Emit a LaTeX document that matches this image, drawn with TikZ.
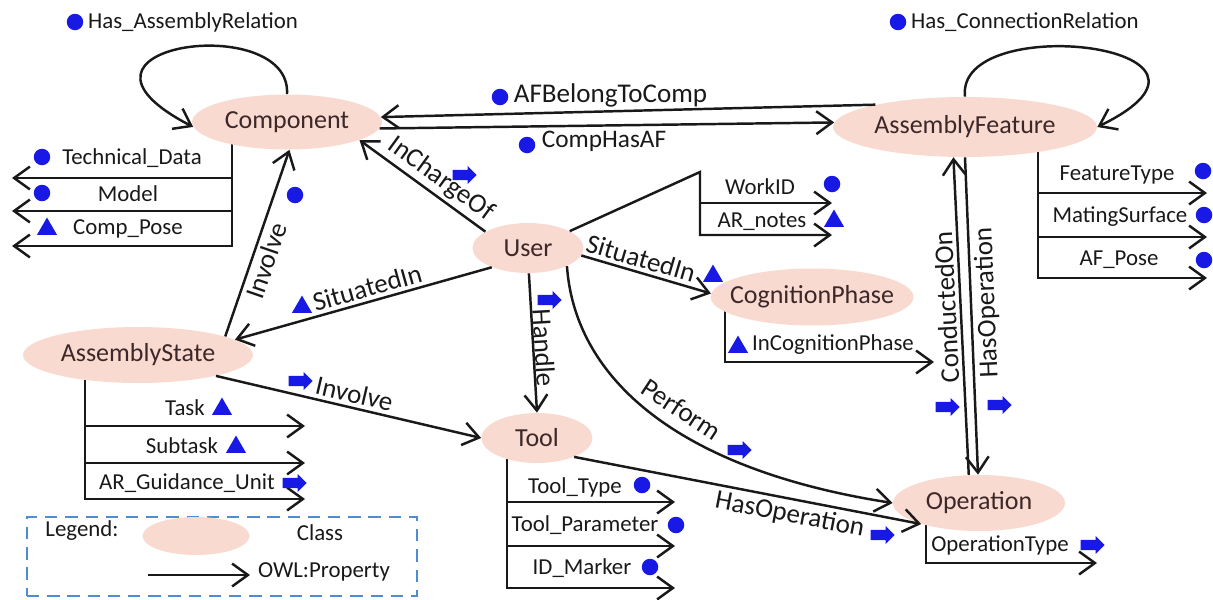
\documentclass[tikz,border=0pt]{standalone}
\usepackage{fontspec}
\setmainfont{Carlito}
\usetikzlibrary{arrows.meta,shapes.geometric,shapes.arrows}
\pgfdeclarelayer{background}
\pgfsetlayers{background,main}
\definecolor{clsfill}{RGB}{249,218,208}
\definecolor{clstext}{RGB}{60,40,40}
\definecolor{iconblue}{RGB}{25,25,230}
\definecolor{lgdblue}{RGB}{80,140,210}
\definecolor{ink}{RGB}{25,25,25}
\tikzset{
 cls/.style={ellipse, fill=clsfill, text=clstext, font=\fontsize{14.8}{17}\selectfont, inner xsep=-14pt, inner ysep=-4pt},
 ln/.style={line width=1.4pt, draw=ink},
 arr/.style={ln, -{Straight Barb[length=9pt,width=13pt]}},
 rarr/.style={ln, {Straight Barb[length=9pt,width=13pt]}-},
 elbl/.style={font=\fontsize{15.4}{17}\selectfont, text=ink, inner sep=2pt},
 slbl/.style={font=\fontsize{13}{15}\selectfont, text=ink, inner sep=1pt},
 dot/.style={circle, fill=iconblue, minimum size=0.33cm, inner sep=0pt},
 tri/.style={regular polygon, regular polygon sides=3, fill=iconblue, minimum size=0.46cm, inner sep=0pt},
 barr/.style={single arrow, fill=iconblue, inner sep=0.095cm, single arrow head extend=0.075cm, minimum height=0.48cm},
}
\begin{document}
\begin{tikzpicture}[x=0.02cm,y=-0.02cm]
\useasboundingbox (0,0) rectangle (1213,599);

% classes
\node[cls, minimum width=3.8cm, minimum height=1.1cm] (comp) at (287,122) {Component};
\node[cls, minimum width=5.28cm, minimum height=1.2cm] (af) at (965,127) {AssemblyFeature};
\node[cls, minimum width=2.22cm, minimum height=1.0cm] (user) at (528,248) {User};
\node[cls, minimum width=4.06cm, minimum height=1.14cm] (cog) at (812,297) {CognitionPhase};
\node[cls, minimum width=4.6cm, minimum height=1.12cm] (as) at (138,355) {AssemblyState};
\node[cls, minimum width=2.22cm, minimum height=1.0cm] (tool) at (537,438) {Tool};
\node[cls, minimum width=3.44cm, minimum height=1.12cm] (op) at (979,503) {Operation};

% self loops
\draw[arr] (comp.north) .. controls (292,10) and (35,45) .. (comp.183);
\node[dot] (dhar) at (75,22) {};
\node[slbl, anchor=west] (lhar) at (86,22) {Has\_AssemblyRelation};
\draw[arr] (af.north) .. controls (955,10) and (1265,45) .. (af.east);
\node[dot] (dhcr) at (898,22) {};
\node[slbl, anchor=west] (lhcr) at (909,22) {Has\_ConnectionRelation};

% component <-> assembly feature
\draw[arr] (af.166) -- (comp.3);
\draw[arr] (comp.-4) -- (af.178);
\node[dot] (dafb) at (500,97) {};
\node[elbl, anchor=west] (lafb) at (510,95) {AFBelongToComp};
\node[dot] (dcha) at (527,145) {};
\node[elbl, anchor=west, font=\fontsize{14.4}{16}\selectfont] (lcha) at (538,141) {CompHasAF};

% user relations
\draw[rarr] (comp.-14) -- node[elbl, sloped, above, pos=0.57] {InChargeOf} (user.159);
\draw[rarr] (as.9) -- node[elbl, sloped, above, pos=0.53] {SituatedIn} (user.208);
\draw[arr] (user.-8) -- node[elbl, sloped, above, pos=0.43] {SituatedIn} (cog.178);
\draw[arr] (user.-88) -- node[elbl, sloped, above, pos=0.54, inner sep=0pt] {Handle} (tool.north);
\draw[arr] (user.-25) .. controls (575,380) and (680,470) .. node[elbl, sloped, above=4pt, pos=0.55] {Perform} (op.west);

% WorkID / AR_notes
\coordinate (wapex) at (700,172);
\coordinate (wt1) at (832,203);
\coordinate (wt2) at (832,235);
\draw[arr] (user.22) -- (wapex) |- (wt2);
\draw[arr] (wapex |- wt1) -- (wt1);
\node[slbl] (lwid) at (760,187) {WorkID};
\node[slbl] (larn) at (762,222) {AR\_notes};

% assembly state relations
\draw[arr] (as.12) -- node[elbl, sloped, below, pos=0.43] {Involve} (comp.-85);
\draw[arr] (as.-15) -- node[elbl, sloped, above, pos=0.51] {Involve} (tool.west);

% tool -> operation
\draw[arr] (tool.-27) -- node[elbl, sloped, below, pos=0.63] {HasOperation} (op.200);

% operation <-> assembly feature
\draw[arr] (op.110) -- node[elbl, sloped, allow upside down, above, pos=0.53] {ConductedOn} (af.-111);
\draw[rarr] (op.92) -- node[elbl, sloped, allow upside down, below, pos=0.54] {HasOperation} (af.-90);

% data/object sub-properties
\begin{pgfonlayer}{background}
\coordinate (cb) at (232,0);
\coordinate (ct1) at (12,178);
\coordinate (ct2) at (12,211);
\coordinate (ct3) at (12,246);
\draw[arr] (comp.center -| cb) |- (ct3);
\draw[arr] (cb |- ct1) -- (ct1);
\draw[arr] (cb |- ct2) -- (ct2);

\coordinate (ab) at (85,0);
\coordinate (at1) at (305,426);
\coordinate (at2) at (305,463);
\coordinate (at3) at (305,499);
\draw[arr] (as.center -| ab) |- (at3);
\draw[arr] (ab |- at1) -- (at1);
\draw[arr] (ab |- at2) -- (at2);

\coordinate (tb) at (507,0);
\coordinate (tt1) at (675,502);
\coordinate (tt2) at (675,546);
\coordinate (tt3) at (675,588);
\draw[arr] (tool.center -| tb) |- (tt3);
\draw[arr] (tb |- tt1) -- (tt1);
\draw[arr] (tb |- tt2) -- (tt2);

\coordinate (fb) at (1038,0);
\coordinate (ft1) at (1207,193);
\coordinate (ft2) at (1207,237);
\coordinate (ft3) at (1207,278);
\draw[arr] (af.center -| fb) |- (ft3);
\draw[arr] (fb |- ft1) -- (ft1);
\draw[arr] (fb |- ft2) -- (ft2);

\coordinate (ob) at (926,0);
\coordinate (ot1) at (1097,563);
\draw[arr] (op.center -| ob) |- (ot1);

\coordinate (gb) at (725,0);
\coordinate (gt1) at (934,362);
\draw[arr] (cog.center -| gb) |- (gt1);
\end{pgfonlayer}

\node[slbl] (ltd) at (132,158) {Technical\_Data};
\node[slbl] (lmod) at (128,194) {Model};
\node[slbl] (lcp) at (128,229) {Comp\_Pose};
\node[slbl] (ltask) at (185,408) {Task};
\node[slbl] (lsub) at (182,446) {Subtask};
\node[slbl] (largu) at (187,483) {AR\_Guidance\_Unit};
\node[slbl] (ltt) at (575,487) {Tool\_Type};
\node[slbl] (ltp) at (585,525) {Tool\_Parameter};
\node[slbl] (lidm) at (582,568) {ID\_Marker};
\node[slbl] (lft) at (1117,175) {FeatureType};
\node[slbl] (lms) at (1120,217) {MatingSurface};
\node[slbl] (lafp) at (1119,260) {AF\_Pose};
\node[slbl] (lot) at (1000,545) {OperationType};
\node[slbl, anchor=west] (licp) at (750,345) {InCognitionPhase};

% legend
\node[draw=lgdblue, line width=1.3pt, dash pattern=on 7pt off 4.5pt, minimum width=7.8cm, minimum height=1.58cm, inner sep=0pt] (lgdbox) at (222,556.5) {};
\node[slbl] (lgdtxt) at (82,531) {Legend:};
\node[cls, minimum width=2.14cm, minimum height=0.76cm] (lgdcls) at (196,536) {};
\node[slbl] (lgdc) at (320,533) {Class};
\coordinate (la1) at (148,575);
\coordinate (la2) at (250,575);
\draw[arr] (la1) -- (la2);
\node[slbl] (lgdp) at (324,572) {OWL:Property};

% icons
\node[dot] (i1) at (42,157) {};
\node[dot] (i2) at (42,193) {};
\node[tri] (i3) at (47,229) {};
\node[dot] (i4) at (295,195) {};
\node[barr] (i5) at (462,175) {};
\node[tri] (i6) at (302,307) {};
\node[tri] (i7) at (713,276) {};
\node[dot] (i8) at (832,184) {};
\node[tri] (i9) at (834,221) {};
\node[barr] (i10) at (298,381) {};
\node[tri] (i11) at (222,409) {};
\node[tri] (i12) at (236,447) {};
\node[barr] (i13) at (292,483) {};
\node[barr] (i14) at (547,300) {};
\node[barr] (i15) at (737,450) {};
\node[barr] (i16) at (880,535) {};
\node[barr] (i17) at (945,407) {};
\node[barr] (i18) at (997,405) {};
\node[dot] (i19) at (642,485) {};
\node[dot] (i20) at (676,525) {};
\node[dot] (i21) at (650,567) {};
\node[dot] (i22) at (1203,171) {};
\node[dot] (i23) at (1204,215) {};
\node[dot] (i24) at (1204,260) {};
\node[barr] (i25) at (1090,545) {};
\node[tri] (i26) at (738,347) {};
\end{tikzpicture}
\end{document}
